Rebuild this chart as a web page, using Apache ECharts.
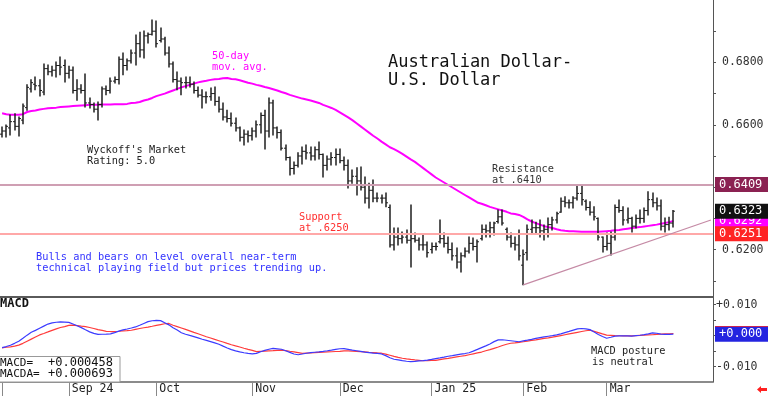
<!DOCTYPE html>
<html><head><meta charset="utf-8">
<script src="https://cdn.jsdelivr.net/npm/echarts@6/dist/echarts.min.js"></script>
<style>html,body{margin:0;padding:0;background:#fff}#c{width:768px;height:396px}</style>
</head><body><div id="c"></div>
<script>
// ---------- categories ----------
const startDate = '2024-08-09';
const skipDates = ['2025-01-01'];
const slotCount = 171;
const tickDates = ['2024-08-09','2024-09-02','2024-10-01','2024-11-01','2024-12-02','2025-01-02','2025-02-03','2025-03-03'];
const tickLabels = ['', 'Sep 24', 'Oct', 'Nov', 'Dec', 'Jan 25', 'Feb', 'Mar'];

// ---------- price bars (AUD/USD daily) ----------
const opens = [
0.6570,0.6580,0.6590,0.6610,0.6595,0.6615,0.6655,0.6715,0.6730,0.6725,
0.6705,0.6780,0.6770,0.6775,0.6790,0.6790,0.6765,0.6775,0.6710,0.6715,
0.6710,0.6670,0.6665,0.6650,0.6665,0.6715,0.6710,0.6740,0.6745,0.6810,
0.6790,0.6805,0.6830,0.6860,0.6840,0.6885,0.6890,0.6900,0.6870,0.6875,
0.6830,0.6795,0.6745,0.6740,0.6735,0.6735,0.6730,0.6710,0.6695,0.6690,
0.6690,0.6700,0.6675,0.6650,0.6625,0.6620,0.6605,0.6590,0.6560,0.6570,
0.6565,0.6580,0.6600,0.6630,0.6580,0.6670,0.6590,0.6575,0.6525,0.6495,
0.6460,0.6470,0.6500,0.6515,0.6510,0.6500,0.6520,0.6505,0.6470,0.6490,
0.6495,0.6505,0.6485,0.6470,0.6420,0.6435,0.6420,0.6400,0.6365,0.6390,
0.6365,0.6365,0.6365,0.6335,0.6215,0.6240,0.6235,0.6240,0.6230,0.6235,
0.6230,0.6215,0.6215,0.6200,0.6210,0.6225,0.6235,0.6220,0.6200,0.6180,
0.6160,0.6180,0.6195,0.6220,0.6210,0.6235,0.6265,0.6260,0.6270,0.6290,
0.6305,0.6265,0.6240,0.6220,0.6215,0.6150,0.6190,0.6265,0.6270,0.6270,
0.6260,0.6265,0.6280,0.6295,0.6320,0.6355,0.6350,0.6350,0.6365,0.6380,
0.6355,0.6335,0.6320,0.6300,0.6240,0.6210,0.6220,0.6240,0.6335,0.6325,
0.6295,0.6300,0.6275,0.6300,0.6300,0.6325,0.6360,0.6350,0.6340,0.6275,
0.6280,0.6285];
const highs = [
0.6593,0.6599,0.6631,0.6635,0.6625,0.6667,0.6728,0.6744,0.6753,0.6744,
0.6795,0.6792,0.6788,0.6801,0.6817,0.6808,0.6788,0.6785,0.6744,0.6728,
0.6763,0.6686,0.6670,0.6673,0.6721,0.6724,0.6750,0.6753,0.6817,0.6830,
0.6811,0.6840,0.6888,0.6897,0.6901,0.6894,0.6936,0.6933,0.6910,0.6881,
0.6849,0.6801,0.6769,0.6750,0.6753,0.6753,0.6737,0.6721,0.6712,0.6705,
0.6718,0.6721,0.6689,0.6670,0.6647,0.6638,0.6622,0.6593,0.6583,0.6580,
0.6590,0.6612,0.6638,0.6647,0.6686,0.6679,0.6593,0.6583,0.6535,0.6497,
0.6481,0.6510,0.6529,0.6535,0.6529,0.6529,0.6545,0.6506,0.6500,0.6510,
0.6522,0.6522,0.6497,0.6487,0.6455,0.6462,0.6465,0.6433,0.6413,0.6423,
0.6381,0.6375,0.6381,0.6343,0.6269,0.6269,0.6256,0.6263,0.6343,0.6253,
0.6237,0.6247,0.6224,0.6221,0.6221,0.6295,0.6253,0.6240,0.6221,0.6205,
0.6189,0.6205,0.6240,0.6237,0.6231,0.6279,0.6279,0.6288,0.6288,0.6327,
0.6327,0.6269,0.6253,0.6240,0.6263,0.6199,0.6279,0.6295,0.6288,0.6295,
0.6279,0.6301,0.6304,0.6320,0.6365,0.6369,0.6359,0.6369,0.6408,0.6402,
0.6359,0.6353,0.6337,0.6301,0.6240,0.6253,0.6256,0.6343,0.6359,0.6337,
0.6333,0.6304,0.6311,0.6327,0.6333,0.6385,0.6381,0.6365,0.6359,0.6301,
0.6304,0.6325];
const lows = [
0.6561,0.6561,0.6567,0.6583,0.6564,0.6603,0.6647,0.6705,0.6712,0.6692,
0.6696,0.6760,0.6756,0.6753,0.6760,0.6737,0.6750,0.6702,0.6679,0.6702,
0.6657,0.6654,0.6641,0.6615,0.6657,0.6696,0.6702,0.6734,0.6731,0.6760,
0.6776,0.6798,0.6792,0.6817,0.6814,0.6862,0.6888,0.6849,0.6865,0.6824,
0.6785,0.6737,0.6712,0.6696,0.6718,0.6721,0.6702,0.6689,0.6654,0.6670,
0.6679,0.6663,0.6641,0.6615,0.6609,0.6596,0.6580,0.6548,0.6535,0.6545,
0.6551,0.6561,0.6574,0.6522,0.6561,0.6567,0.6558,0.6519,0.6487,0.6439,
0.6442,0.6465,0.6474,0.6490,0.6487,0.6487,0.6490,0.6433,0.6455,0.6471,
0.6471,0.6478,0.6455,0.6397,0.6413,0.6375,0.6391,0.6349,0.6333,0.6353,
0.6353,0.6349,0.6337,0.6208,0.6199,0.6215,0.6221,0.6221,0.6144,0.6224,
0.6199,0.6199,0.6176,0.6189,0.6199,0.6221,0.6208,0.6189,0.6167,0.6141,
0.6128,0.6176,0.6189,0.6199,0.6160,0.6231,0.6240,0.6240,0.6247,0.6285,
0.6279,0.6231,0.6208,0.6199,0.6167,0.6087,0.6167,0.6253,0.6253,0.6240,
0.6231,0.6240,0.6263,0.6285,0.6320,0.6337,0.6333,0.6333,0.6359,0.6343,
0.6327,0.6311,0.6295,0.6231,0.6192,0.6199,0.6183,0.6231,0.6320,0.6279,
0.6285,0.6256,0.6269,0.6285,0.6288,0.6311,0.6337,0.6327,0.6263,0.6256,
0.6263,0.6272];
const closes = [
0.6580,0.6595,0.6610,0.6595,0.6620,0.6660,0.6720,0.6735,0.6725,0.6710,
0.6780,0.6770,0.6775,0.6790,0.6785,0.6765,0.6775,0.6710,0.6715,0.6710,
0.6670,0.6665,0.6650,0.6665,0.6715,0.6710,0.6740,0.6745,0.6810,0.6790,
0.6805,0.6830,0.6860,0.6840,0.6885,0.6890,0.6900,0.6860,0.6875,0.6830,
0.6795,0.6745,0.6740,0.6735,0.6735,0.6730,0.6710,0.6695,0.6690,0.6690,
0.6700,0.6675,0.6650,0.6625,0.6620,0.6605,0.6590,0.6560,0.6570,0.6565,
0.6580,0.6600,0.6630,0.6580,0.6670,0.6590,0.6575,0.6525,0.6495,0.6460,
0.6470,0.6500,0.6515,0.6510,0.6500,0.6520,0.6505,0.6470,0.6490,0.6495,
0.6505,0.6485,0.6470,0.6420,0.6435,0.6420,0.6400,0.6365,0.6390,0.6365,
0.6365,0.6365,0.6350,0.6215,0.6240,0.6235,0.6240,0.6230,0.6235,0.6230,
0.6215,0.6215,0.6190,0.6210,0.6210,0.6235,0.6220,0.6200,0.6180,0.6160,
0.6180,0.6195,0.6220,0.6210,0.6225,0.6265,0.6260,0.6270,0.6285,0.6305,
0.6285,0.6240,0.6220,0.6215,0.6180,0.6185,0.6265,0.6270,0.6270,0.6260,
0.6265,0.6280,0.6295,0.6315,0.6355,0.6350,0.6350,0.6365,0.6380,0.6360,
0.6335,0.6320,0.6305,0.6240,0.6210,0.6220,0.6240,0.6335,0.6325,0.6295,
0.6300,0.6275,0.6300,0.6300,0.6325,0.6360,0.6350,0.6340,0.6275,0.6280,
0.6285,0.6323];

// ---------- 50-day moving average ----------
const ma50 = [
0.6637,0.6634,0.6632,0.6632,0.6632,0.6634,0.6641,0.6644,0.6646,0.6649,
0.6651,0.6653,0.6654,0.6655,0.6657,0.6658,0.6659,0.6660,0.6661,0.6662,
0.6663,0.6664,0.6664,0.6664,0.6665,0.6665,0.6665,0.6666,0.6666,0.6666,
0.6667,0.6670,0.6671,0.6673,0.6678,0.6681,0.6686,0.6692,0.6696,0.6700,
0.6705,0.6710,0.6715,0.6720,0.6724,0.6728,0.6732,0.6736,0.6739,0.6741,
0.6744,0.6746,0.6747,0.6749,0.6750,0.6747,0.6746,0.6743,0.6739,0.6735,
0.6732,0.6728,0.6725,0.6721,0.6718,0.6714,0.6710,0.6705,0.6701,0.6696,
0.6692,0.6688,0.6684,0.6681,0.6678,0.6674,0.6670,0.6664,0.6659,0.6654,
0.6648,0.6640,0.6632,0.6624,0.6615,0.6605,0.6595,0.6585,0.6575,0.6565,
0.6556,0.6546,0.6537,0.6528,0.6522,0.6515,0.6507,0.6498,0.6489,0.6481,
0.6471,0.6461,0.6451,0.6441,0.6431,0.6423,0.6415,0.6407,0.6399,0.6391,
0.6383,0.6375,0.6367,0.6359,0.6351,0.6347,0.6342,0.6337,0.6333,0.6329,
0.6325,0.6321,0.6316,0.6314,0.6311,0.6305,0.6297,0.6290,0.6285,0.6280,
0.6275,0.6272,0.6269,0.6265,0.6262,0.6260,0.6259,0.6259,0.6258,0.6257,
0.6257,0.6257,0.6257,0.6257,0.6258,0.6259,0.6260,0.6262,0.6263,0.6265,
0.6267,0.6269,0.6271,0.6272,0.6274,0.6276,0.6278,0.6280,0.6283,0.6285,
0.6288,0.6292];

// ---------- MACD ----------
const macd = [
-0.00388,-0.00353,-0.00311,-0.00249,-0.00184,-0.00087,0.00016,0.00107,0.00171,0.00239,
0.00307,0.00375,0.00411,0.00433,0.00446,0.00440,0.00430,0.00378,0.00320,0.00259,
0.00188,0.00123,0.00074,0.00042,0.00045,0.00049,0.00055,0.00097,0.00146,0.00184,
0.00214,0.00246,0.00281,0.00336,0.00395,0.00453,0.00482,0.00495,0.00485,0.00417,
0.00349,0.00256,0.00181,0.00094,0.00045,0.00006,-0.00032,-0.00074,-0.00116,-0.00155,
-0.00194,-0.00233,-0.00278,-0.00340,-0.00398,-0.00453,-0.00492,-0.00524,-0.00553,-0.00573,
-0.00589,-0.00573,-0.00521,-0.00476,-0.00440,-0.00414,-0.00427,-0.00440,-0.00488,-0.00540,
-0.00595,-0.00618,-0.00595,-0.00569,-0.00550,-0.00537,-0.00524,-0.00508,-0.00488,-0.00466,
-0.00443,-0.00424,-0.00421,-0.00443,-0.00466,-0.00488,-0.00511,-0.00534,-0.00547,-0.00563,
-0.00576,-0.00592,-0.00647,-0.00715,-0.00763,-0.00786,-0.00809,-0.00828,-0.00841,-0.00831,
-0.00818,-0.00806,-0.00793,-0.00770,-0.00744,-0.00721,-0.00696,-0.00666,-0.00644,-0.00621,
-0.00598,-0.00579,-0.00553,-0.00501,-0.00446,-0.00388,-0.00330,-0.00269,-0.00194,-0.00136,
-0.00133,-0.00149,-0.00165,-0.00181,-0.00197,-0.00171,-0.00146,-0.00120,-0.00091,-0.00065,
-0.00042,-0.00019,0.00003,0.00026,0.00055,0.00097,0.00136,0.00178,0.00217,0.00230,
0.00217,0.00194,0.00116,0.00039,-0.00029,-0.00084,-0.00052,-0.00016,-0.00006,-0.00010,
-0.00010,-0.00013,0.00000,0.00013,0.00032,0.00058,0.00091,0.00078,0.00049,0.00039,
0.00042,0.000458];
const macda = [
-0.00398,-0.00375,-0.00362,-0.00340,-0.00307,-0.00249,-0.00181,-0.00113,-0.00045,0.00023,
0.00071,0.00120,0.00171,0.00220,0.00262,0.00294,0.00330,0.00340,0.00324,0.00307,
0.00291,0.00262,0.00230,0.00194,0.00168,0.00139,0.00133,0.00133,0.00142,0.00152,
0.00162,0.00175,0.00204,0.00230,0.00256,0.00278,0.00304,0.00333,0.00359,0.00385,
0.00395,0.00336,0.00291,0.00246,0.00201,0.00155,0.00107,0.00061,0.00013,-0.00036,
-0.00078,-0.00123,-0.00165,-0.00207,-0.00252,-0.00294,-0.00333,-0.00369,-0.00408,-0.00443,
-0.00476,-0.00518,-0.00508,-0.00501,-0.00492,-0.00485,-0.00476,-0.00469,-0.00482,-0.00505,
-0.00527,-0.00550,-0.00573,-0.00566,-0.00560,-0.00550,-0.00543,-0.00537,-0.00527,-0.00521,
-0.00514,-0.00508,-0.00495,-0.00492,-0.00498,-0.00508,-0.00518,-0.00524,-0.00537,-0.00547,
-0.00560,-0.00569,-0.00598,-0.00634,-0.00670,-0.00705,-0.00731,-0.00751,-0.00770,-0.00786,
-0.00799,-0.00812,-0.00809,-0.00799,-0.00799,-0.00776,-0.00754,-0.00734,-0.00712,-0.00689,
-0.00666,-0.00647,-0.00618,-0.00589,-0.00560,-0.00531,-0.00488,-0.00453,-0.00411,-0.00369,
-0.00320,-0.00278,-0.00246,-0.00233,-0.00217,-0.00197,-0.00178,-0.00155,-0.00136,-0.00113,
-0.00091,-0.00074,-0.00049,-0.00023,0.00003,0.00029,0.00055,0.00081,0.00107,0.00133,
0.00159,0.00175,0.00136,0.00097,0.00055,0.00016,0.00010,0.00003,-0.00003,-0.00010,
-0.00010,-0.00006,0.00000,0.00010,0.00016,0.00023,0.00029,0.00042,0.00049,0.00055,
0.00061,0.000693];

// ---------- levels & axis ticks ----------
const resistance = 0.6409;
const support = 0.6251;
const trendFrom = [125, 0.6087];
const trendTo = [170, 0.6295];
const priceTicks = [0.61,0.62,0.63,0.64,0.65,0.66,0.67,0.68,0.69];
const priceLabels = [0.62,0.64,0.66,0.68];
const macdTicks = [-0.01,-0.005,0,0.005,0.01];
const macdLabels = [-0.01,0.01];

// ---------- build ----------
function buildDates() {
  const out = [];
  const d = new Date(startDate + 'T00:00:00Z');
  while (out.length < slotCount) {
    const wd = d.getUTCDay();
    const s = d.toISOString().slice(0, 10);
    if (wd !== 0 && wd !== 6 && skipDates.indexOf(s) < 0) out.push(s);
    d.setUTCDate(d.getUTCDate() + 1);
  }
  return out;
}
const dates = buildDates();
const labelMap = {};
tickDates.forEach((d, k) => { labelMap[d] = tickLabels[k]; });
const ohlc = opens.map((o, i) => [i, o, highs[i], lows[i], closes[i]]);
const last = closes.length - 1;
const FONT = '"DejaVu Sans Mono", monospace';
const signFmt = (v, n) => (v >= 0 ? '+' : '-') + Math.abs(v).toFixed(n);

function txt(x, y, text, color, size, weight) {
  return { type: 'text', x: x, y: y, z: 100, silent: true,
    style: { text: text, fill: color, font: (weight || 'normal') + ' ' + size + 'px ' + FONT,
      verticalAlign: 'middle', align: 'left' } };
}
function box(value, text, bg) {
  return { yAxis: value, lineStyle: { color: 'rgba(0,0,0,0)', width: 0.1 },
    label: { show: true, position: 'end', distance: 2, formatter: text, color: '#fff',
      backgroundColor: bg, padding: [2, 8, 1, 4], fontFamily: FONT, fontSize: 12 } };
}

const chart = echarts.init(document.getElementById('c'), null, { renderer: 'canvas' });
chart.setOption({
  animation: false,
  backgroundColor: '#fff',
  grid: [
    { left: 0, right: 55, top: 0, height: 297, containLabel: false, outerBoundsMode: 'none' },
    { left: 0, right: 55, top: 297, height: 85, containLabel: false, outerBoundsMode: 'none' }
  ],
  xAxis: [
    { type: 'category', gridIndex: 0, data: dates, boundaryGap: true,
      axisLine: { show: true, onZero: false, lineStyle: { color: '#5a5a5a', width: 2 } },
      axisTick: { show: false }, axisLabel: { show: false }, splitLine: { show: false } },
    { type: 'category', gridIndex: 1, data: dates, boundaryGap: true,
      axisLine: { show: true, onZero: false, lineStyle: { color: '#666', width: 1.5 } },
      axisTick: { show: true, alignWithLabel: true, length: 14,
        interval: (i, v) => labelMap[v] !== undefined, lineStyle: { color: '#888', width: 1 } },
      axisLabel: { show: true, interval: (i, v) => labelMap[v] !== undefined,
        formatter: v => labelMap[v] || '', align: 'left', margin: 1, padding: [0, 0, 0, 3],
        fontFamily: FONT, fontSize: 11.5, color: '#222' },
      splitLine: { show: false } }
  ],
  yAxis: [
    { type: 'value', gridIndex: 0, position: 'right', min: 0.6048, max: 0.70, scale: true,
      axisLine: { show: true, lineStyle: { color: '#555', width: 1 } },
      axisTick: { show: true, length: 3, customValues: priceTicks, lineStyle: { color: '#555' } },
      axisLabel: { show: true, customValues: priceLabels, formatter: v => v.toFixed(4),
        margin: 9, fontFamily: FONT, fontSize: 11.5, color: '#333' },
      splitLine: { show: false } },
    { type: 'value', gridIndex: 1, position: 'right', min: -0.015, max: 0.0125,
      axisLine: { show: true, lineStyle: { color: '#555', width: 1 } },
      axisTick: { show: true, length: 3, customValues: macdTicks, lineStyle: { color: '#555' } },
      axisLabel: { show: true, customValues: macdLabels, formatter: v => signFmt(v, 3),
        margin: 3, fontFamily: FONT, fontSize: 11.5, color: '#333' },
      splitLine: { show: false } }
  ],
  series: [
    { name: 'levels', type: 'line', xAxisIndex: 0, yAxisIndex: 0, data: [], z: 1, clip: false,
      markLine: { silent: true, precision: 6, symbol: ['none', 'none'], label: { show: false },
        data: [
          { yAxis: resistance, lineStyle: { color: '#cf9fb3', width: 2, type: 'solid' } },
          { yAxis: support, lineStyle: { color: '#ffa8a8', width: 2, type: 'solid' } },
          [ { coord: trendFrom, lineStyle: { color: '#c58aa5', width: 1.2, type: 'solid' } }, { coord: trendTo } ]
        ] } },
    { name: '50-day mov. avg.', type: 'line', xAxisIndex: 0, yAxisIndex: 0, data: ma50, z: 2,
      showSymbol: false, symbol: 'none', lineStyle: { color: '#ff00ff', width: 2 } },
    { name: 'AUD/USD', type: 'custom', xAxisIndex: 0, yAxisIndex: 0, data: ohlc, z: 3,
      encode: { x: 0, y: [1, 2, 3, 4] },
      renderItem: function (params, api) {
        const i = api.value(0);
        const o = api.coord([i, api.value(1)]);
        const h = api.coord([i, api.value(2)]);
        const l = api.coord([i, api.value(3)]);
        const c = api.coord([i, api.value(4)]);
        const x = Math.round(h[0]);
        const st = { stroke: '#1e1e1e', lineWidth: 1.5 };
        return { type: 'group', children: [
          { type: 'line', shape: { x1: x, y1: h[1] - 0.5, x2: x, y2: l[1] + 0.5 }, style: st },
          { type: 'line', shape: { x1: x - 2, y1: o[1], x2: x, y2: o[1] }, style: { stroke: '#1e1e1e', lineWidth: 1 } },
          { type: 'line', shape: { x1: x, y1: c[1], x2: x + 2, y2: c[1] }, style: { stroke: '#1e1e1e', lineWidth: 1 } }
        ] };
      } },
    { name: 'boxes', type: 'line', xAxisIndex: 0, yAxisIndex: 0, data: [], z: 5, clip: false,
      markLine: { silent: true, precision: 6, symbol: ['none', 'none'],
        data: [
          box(ma50[last], ma50[last].toFixed(4), '#ff00ff'),
          box(closes[last], closes[last].toFixed(4), '#111111'),
          box(support, support.toFixed(4), '#ff2424'),
          box(resistance, resistance.toFixed(4), '#8b2252')
        ] } },
    { name: 'MACDA', type: 'line', xAxisIndex: 1, yAxisIndex: 1, data: macda, z: 2, clip: false,
      showSymbol: false, symbol: 'none', lineStyle: { color: '#ff3b3b', width: 1.2 },
      markLine: { silent: true, precision: 8, symbol: ['none', 'none'], data: [ box(macda[last], signFmt(macda[last], 3), '#ff2424') ] } },
    { name: 'MACD', type: 'line', xAxisIndex: 1, yAxisIndex: 1, data: macd, z: 3, clip: false,
      showSymbol: false, symbol: 'none', lineStyle: { color: '#3b3bff', width: 1.2 },
      markLine: { silent: true, precision: 8, symbol: ['none', 'none'], data: [ box(macd[last], signFmt(macd[last], 3), '#2424e0') ] } }
  ],
  graphic: [
    txt(212, 56, '50-day', '#ff00ff', 10.3),
    txt(212, 67, 'mov. avg.', '#ff00ff', 10.3),
    txt(388, 63, 'Australian Dollar-', '#111', 17),
    txt(388, 81, 'U.S. Dollar', '#111', 17),
    txt(87, 150, "Wyckoff's Market", '#222', 10.3),
    txt(87, 161, 'Rating: 5.0', '#222', 10.3),
    txt(492, 169, 'Resistance', '#333', 10.3),
    txt(492, 180, 'at .6410', '#333', 10.3),
    txt(299, 217, 'Support', '#ff3030', 10.3),
    txt(299, 228, 'at .6250', '#ff3030', 10.3),
    txt(36, 257, 'Bulls and bears on level overall near-term', '#3333ff', 10.3),
    txt(36, 268, 'technical playing field but prices trending up.', '#3333ff', 10.3),
    txt(0, 304, 'MACD', '#111', 12, 'bold'),
    { type: 'rect', z: 90, silent: true, shape: { x: -1, y: 356.5, width: 121, height: 25.5 },
      style: { fill: '#fff', stroke: '#999', lineWidth: 1 } },
    txt(0, 363, 'MACD=', '#111', 11),
    txt(48, 363, signFmt(macd[last], 6), '#111', 12),
    txt(0, 374, 'MACDA=', '#111', 11),
    txt(48, 374, signFmt(macda[last], 6), '#111', 12),
    txt(591, 351, 'MACD posture', '#222', 10.3),
    txt(592, 362, 'is neutral', '#222', 10.3),
    { type: 'polygon', z: 100, silent: true,
      shape: { points: [[757, 389.5], [761, 386], [761, 388], [767, 388], [767, 391], [761, 391], [761, 393]] },
      style: { fill: '#ff2020' } }
  ]
});
</script>
</body></html>
